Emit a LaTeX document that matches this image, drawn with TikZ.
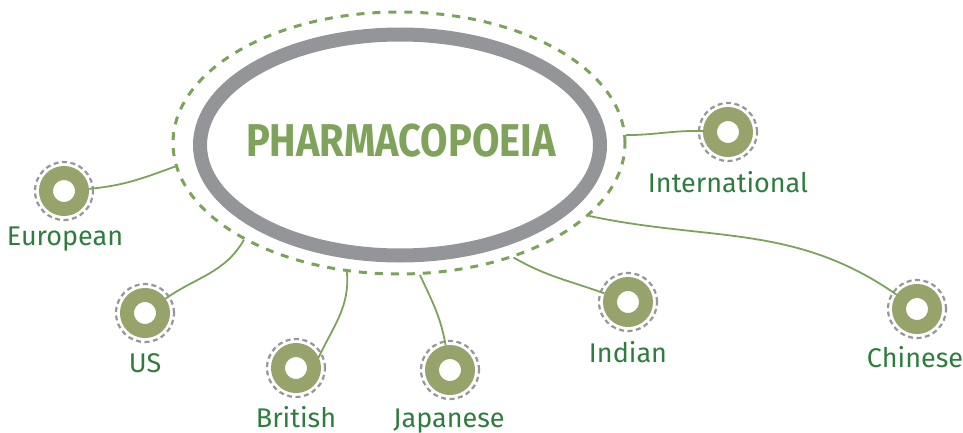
\documentclass[tikz,border=0pt]{standalone}
\usepackage{fontspec}
\setmainfont{Fira Sans}
\newfontfamily\titlefont[FakeStretch=0.865]{Fira Sans}
\usetikzlibrary{shapes.geometric}
\definecolor{lblgreen}{RGB}{46,125,62}
\definecolor{ttlgreen}{RGB}{128,163,92}
\definecolor{dskgreen}{RGB}{150,164,107}
\definecolor{dashgreen}{RGB}{125,163,90}
\definecolor{ringgray}{RGB}{150,150,155}
\definecolor{hubgray}{RGB}{147,149,152}

\begin{document}
\begin{tikzpicture}[x=1pt,y=-1pt]
            \tikzset{source/.style = {shape=circle,draw=dskgreen,fill=white,line width=14pt,minimum size=36pt,inner sep=0pt}}
            \tikzset{lbl/.style = {anchor=base,text=lblgreen,font=\fontsize{27}{32}\selectfont}}
            \tikzset{link/.style = {draw=dashgreen,line width=1.8pt}}
            \tikzset{ring/.style = {draw=ringgray,line width=2.2pt,dash pattern=on 5pt off 3.5pt}}

            \useasboundingbox (0,0) rectangle (963,433);

            \node[ellipse,draw=dashgreen,line width=3pt,dash pattern=on 8pt off 8pt,
            minimum width=452pt,minimum height=262pt,inner sep=0pt] (outer) at (399,143) {};
            \node[ellipse,draw=hubgray,line width=14pt,minimum width=400pt,
            minimum height=221pt,inner sep=0pt] (hub) at (400,145) {};
            \node[text=ttlgreen,font=\titlefont\bfseries\fontsize{46}{50}\selectfont] (title) at (401,141) {PHARMACOPOEIA};

            \node[source] (european) at (64,191) {};
            \node[source] (us) at (145,313) {};
            \node[source] (british) at (296,368) {};
            \node[source] (japanese) at (450,370) {};
            \node[source] (indian) at (628,302) {};
            \node[source] (chinese) at (917,309) {};
            \node[source] (international) at (728,132) {};

            \foreach \n in {european,us,british,japanese,indian,chinese,international}
                \draw[ring] (\n) circle (29pt);

            \node[lbl] (europeanlbl) at (65,245) {European};
            \node[lbl] (uslbl) at (145,372) {US};
            \node[lbl] (britishlbl) at (296,427) {British};
            \node[lbl] (japaneselbl) at (449,427) {Japanese};
            \node[lbl] (indianlbl) at (628,362) {Indian};
            \node[lbl] (chineselbl) at (915,367) {Chinese};
            \node[lbl] (internationallbl) at (728,192) {International};

            \draw[link] (european) to[out=5,in=200] (outer.186);
            \draw[link] (us) to[out=35,in=240] (outer.212);
            \draw[link] (british.25) to[out=65,in=-85] (outer.248);
            \draw[link] (japanese) to[out=100,in=-65] (outer.279);
            \draw[link] (indian) to[out=160,in=-30] (outer.315);
            \draw[link] (chinese) to[out=145,in=-12] (outer.339);
            \draw[link] (international) to[out=178,in=0] (outer.2);
\end{tikzpicture}
\end{document}
